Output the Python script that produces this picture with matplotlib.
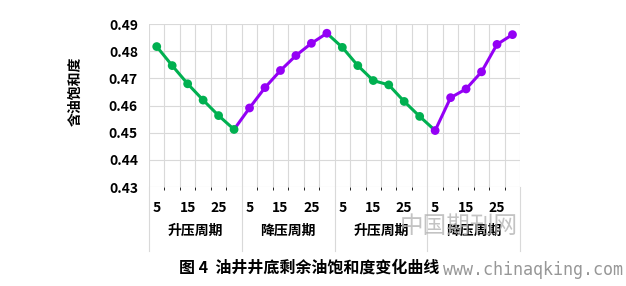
import numpy as np
import matplotlib
matplotlib.use("Agg")
import matplotlib.pyplot as plt

plt.rcParams['font.family'] = ['Noto Sans CJK SC', 'DejaVu Sans']

groups = ["升压周期", "降压周期", "升压周期", "降压周期"]
days = [5, 10, 15, 20, 25, 30]
tick_text = ["5", "", "15", "", "25", ""]
saturation = [0.4817, 0.4747, 0.4680, 0.4620, 0.4563, 0.4512,
              0.4591, 0.4666, 0.4729, 0.4784, 0.4829, 0.4866,
              0.4814, 0.4747, 0.4692, 0.4676, 0.4615, 0.4560,
              0.4508, 0.4629, 0.4661, 0.4724, 0.4825, 0.4861]

green = "#00B050"
purple = "#9400F5"
grid_c = "#D9D9D9"

fig = plt.figure(figsize=(6.26, 2.86), dpi=100)
ax = fig.add_axes([0.238, 0.346, 0.593, 0.570])

x = np.arange(len(saturation))
y = np.array(saturation)
pt_col = [green if (i // 6) % 2 == 0 else purple for i in x]
# segment colours as in the source chart
seg_col = [pt_col[i + 1] for i in range(len(x) - 1)]
seg_col[17] = green
for i in range(len(x) - 1):
    ax.plot(x[i:i + 2], y[i:i + 2], color=seg_col[i], lw=2.2, zorder=3,
            solid_capstyle='round')
ax.scatter(x, y, c=pt_col, s=40, zorder=4, linewidths=0)

ax.set_xlim(-0.5, len(x) - 0.5)
ax.set_ylim(0.43, 0.49)
ax.set_yticks(np.arange(0.43, 0.4901, 0.01))
ax.set_yticklabels([f"{v:.2f}" for v in np.arange(0.43, 0.4901, 0.01)],
                   fontsize=10, fontweight='bold')
ax.set_xticks(x)
ax.set_xticklabels(tick_text * len(groups), fontsize=10, fontweight='bold')
ax.tick_params(length=0, pad=10)
ax.tick_params(axis='y', pad=8)

ax.set_xticks(np.arange(-0.5, len(x), 1), minor=True)
ax.grid(True, which='minor', axis='x', color=grid_c, lw=0.8)
ax.grid(True, which='major', axis='y', color=grid_c, lw=0.8)
ax.set_axisbelow(True)
for s in ax.spines.values():
    s.set_visible(False)

# group separators and labels below the axis
for k in range(len(groups) + 1):
    ax.plot([k * 6 - 0.5] * 2, [0.0, -0.39], transform=ax.get_xaxis_transform(),
            color=grid_c, lw=0.8, clip_on=False)
for k, g in enumerate(groups):
    ax.text(k * 6 + 2.5, -0.27, g, transform=ax.get_xaxis_transform(),
            ha='center', va='center', fontsize=10, fontweight='bold')

fig.text(75 / 626, 1 - 91 / 286, "含油饱和度", rotation=90, ha='center', va='center',
         fontsize=10, fontweight='bold')

fig.text(309 / 626, 1 - 268 / 286, "图 4  油井井底剩余油饱和度变化曲线",
         ha='center', va='center', fontsize=11.5, fontweight='bold')

# watermark
fig.text(459 / 626, 1 - 226 / 286, "中国期刊网", ha='center', va='center',
         fontsize=17, color='#B4B4B4', fontweight='light', alpha=0.8)
fig.text(533 / 626, 1 - 270 / 286, "www.chinaqking.com", ha='center', va='center',
         fontsize=12, color='#8C8C8C', family='DejaVu Sans Mono', alpha=0.9)

fig.savefig("out.png", dpi=100)
